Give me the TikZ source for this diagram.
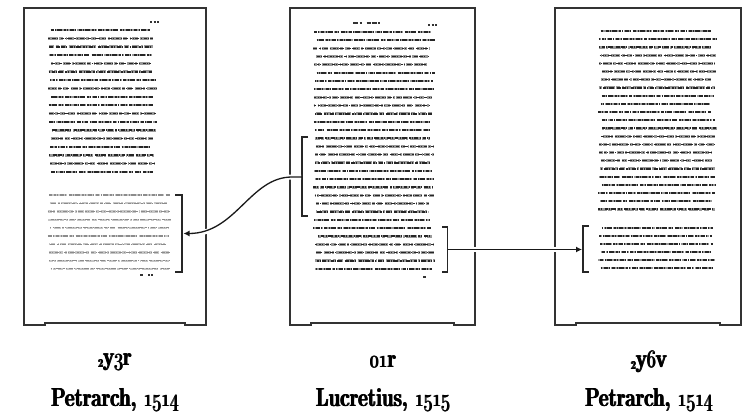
\documentclass[tikz,border=0pt]{standalone}
\usetikzlibrary{arrows.meta}
\tikzset{
  pageframe/.style={draw=black!80, line width=1.8pt, line join=miter},
  brace/.style={draw=black!85, line width=1.8pt},
  txt/.style={draw=black!40, line width=2.6pt,
    dash pattern=on 7pt off 1.2pt on 2pt off 1.6pt on 11pt off 1pt on 4pt off 2.4pt on 1.5pt off 1pt on 6pt off 1.8pt on 9pt off 1.3pt on 3pt off 2pt on 5pt off 3pt},
  txtdark/.style={draw=black!85, line width=1.6pt,
    dash pattern=on 3pt off 1.4pt on 1pt off 1pt on 5pt off 2.2pt on 2pt off 0.8pt on 1.2pt off 1.7pt on 4pt off 1.1pt on 0.9pt off 2.5pt},
  faint/.style={draw=black!22, line width=2.2pt,
    dash pattern=on 7pt off 1.2pt on 2pt off 1.6pt on 11pt off 1pt on 4pt off 2.4pt on 1.5pt off 1pt on 6pt off 1.8pt on 9pt off 1.3pt on 3pt off 2pt on 5pt off 3pt},
  faintdark/.style={draw=black!45, line width=1.3pt,
    dash pattern=on 3pt off 1.4pt on 1pt off 1pt on 5pt off 2.2pt on 2pt off 0.8pt on 1.2pt off 1.7pt on 4pt off 1.1pt on 0.9pt off 2.5pt},
  link/.style={draw=black!90, line width=1.3pt, -{Latex[length=6pt,width=6pt]}},
  halo/.style={draw=white, line width=5pt},
  lbl/.style={font=\bfseries\fontsize{26}{28}\selectfont, xscale=0.72, inner sep=0pt},
  smallmark/.style={draw=black!80, line width=1.6pt}
}
\newcommand\osn[1]{{\usefont{OML}{lmm}{b}{it}#1}}
\newcommand\heavy[1]{\rlap{#1}\kern0.6pt\rlap{#1}\kern0.6pt\rlap{#1}\kern0.6pt#1}
\newcommand\pageframe[2]{%
  \draw[pageframe] (#1,8) -- (#2,8) -- (#2,325) -- (#2-21,325) -- (#2-21,323.3)
    -- (#1+21,323.3) -- (#1+21,325) -- (#1,325) -- cycle;}
\newcommand\scribble[7]{% x0 x1 y0 lastindex spacing style darkstyle
  \foreach \i in {0,...,#4}{%
    \pgfmathsetmacro\xa{#1+rnd*4}%
    \pgfmathsetmacro\xb{#2-rnd*7}%
    \pgfmathsetmacro\ph{rnd*70}%
    \pgfmathsetmacro\phb{rnd*40}%
    \pgfmathsetmacro\yy{#3+\i*#5}%
    \draw[#6, dash phase=\ph pt] (\xa,\yy) -- (\xb,\yy);
    \draw[#7, dash phase=\phb pt] (\xa,\yy) -- (\xb,\yy);
  }}
\begin{document}
\begin{tikzpicture}[x=1pt,y=-1pt]
\useasboundingbox (0,0) rectangle (750,418);
\fill[white] (0,0) rectangle (750,418);
\pgfmathsetseed{11}

% pages
\pageframe{24}{206}
\pageframe{290}{475}
\pageframe{555}{741}

% text blocks
\scribble{48}{157}{30}{17}{8.35}{txt}{txtdark}
\scribble{47}{172}{195}{9}{8.2}{faint}{faintdark}
\scribble{313}{435}{32}{29}{8.17}{txt}{txtdark}
\scribble{598}{717}{31}{22}{8.1}{txt}{txtdark}
\scribble{598}{717}{228}{5}{8}{txt}{txtdark}

% small marks (folio numbers, catchwords)
\draw[smallmark, dash pattern=on 2pt off 1.5pt] (150,22) -- (160,22);
\draw[smallmark, dash pattern=on 5pt off 1.5pt on 2pt off 5pt on 4pt off 1pt] (353,23) -- (380,23);
\draw[smallmark, dash pattern=on 2pt off 1.5pt] (428,25) -- (438,25);
\draw[smallmark, dash pattern=on 3pt off 5pt on 2pt off 1pt on 3pt off 1pt] (140,275) -- (153,275);
\draw[smallmark] (423,277) -- (426,277);

% brackets
\draw[brace] (175,195) -- (182,195) -- (182,272) -- (175,272);
\coordinate (lbr) at (183.5,233.5);
\draw[brace] (308,137) -- (302,137) -- (302,216) -- (308,216);
\coordinate (mbra) at (302,177);
\draw[brace] (442,227) -- (447.5,227) -- (447.5,272) -- (442,272);
\coordinate (mbrb) at (447.5,249.5);
\draw[brace] (589,226) -- (583,226) -- (583,272) -- (589,272);
\coordinate (rbr) at (582,249.5);

% connectors
\coordinate (stub) at (292,177);
\draw[halo, shorten <=1pt, shorten >=9pt] (mbra) -- (stub) .. controls (250,177) and (236,233.5) .. (lbr);
\draw[link] (mbra) -- (stub) .. controls (250,177) and (236,233.5) .. (lbr);
\draw[halo, shorten <=1.5pt, shorten >=9pt] (mbrb) -- (rbr);
\draw[link] (mbrb) -- (rbr);

% labels
\node[lbl] (fa) at (115,362) {\heavy{\raisebox{-2pt}{\fontsize{12}{12}\selectfont 2}y\osn{3}r}};
\node[lbl] (fb) at (383,362) {\heavy{\osn{01}r}};
\node[lbl] (fc) at (649,362) {\heavy{\raisebox{-2pt}{\fontsize{12}{12}\selectfont 2}y\osn{6}v}};
\node[lbl] (na) at (115,400) {\heavy{Petrarch, \osn{1514}}};
\node[lbl] (nb) at (383,400) {\heavy{Lucretius, \osn{1515}}};
\node[lbl] (nc) at (649,400) {\heavy{Petrarch, \osn{1514}}};
\end{tikzpicture}
\end{document}
